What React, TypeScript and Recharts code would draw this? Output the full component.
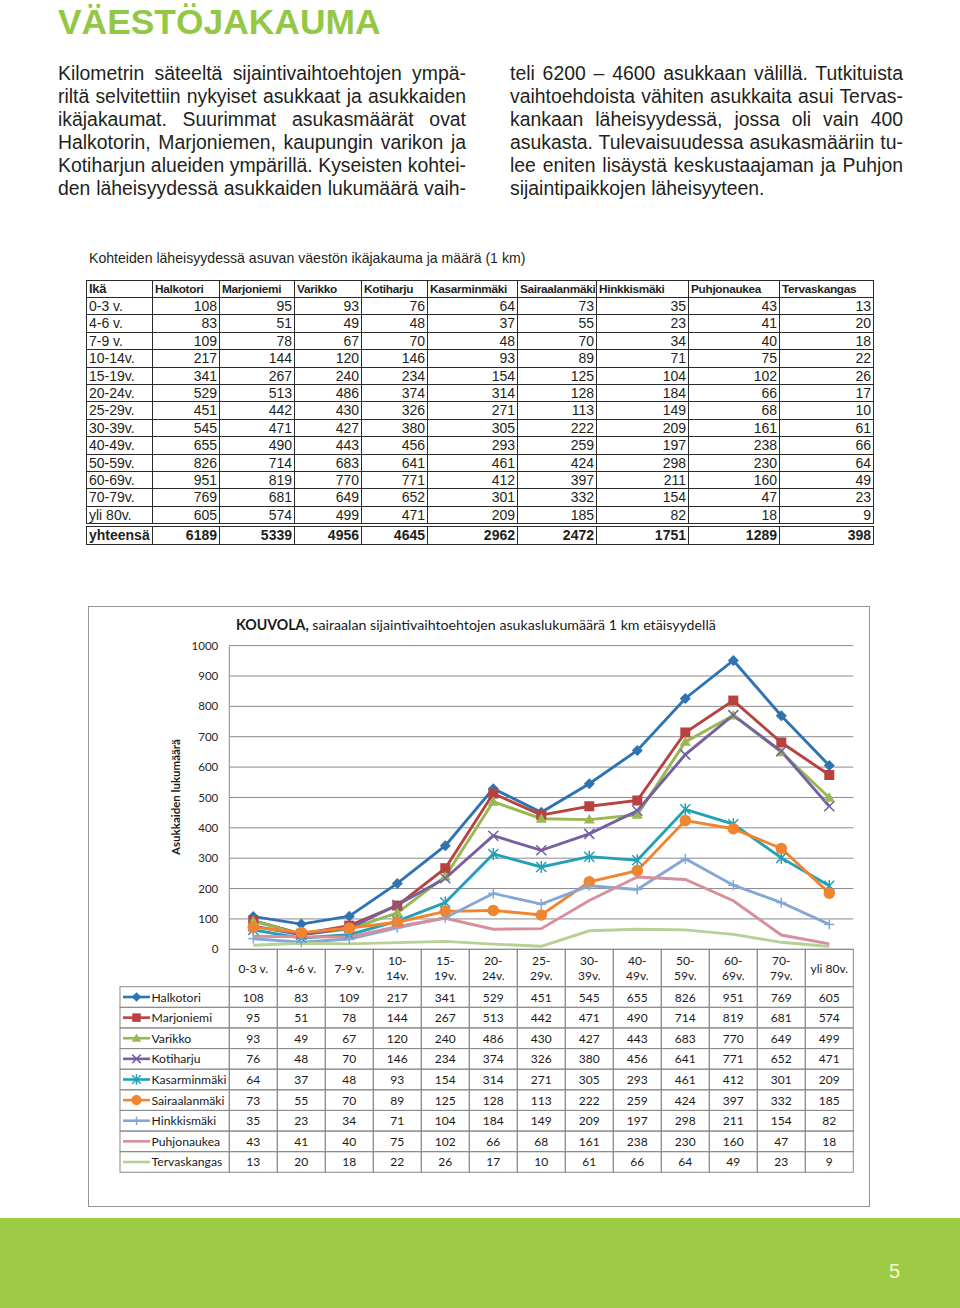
import React from 'react';
import { LineChart, Line, XAxis, YAxis, CartesianGrid } from 'recharts';

// ikäryhmät ja asukasmäärät (1 km säteellä)
const ageGroups = ['0-3 v.', '4-6 v.', '7-9 v.', '10-14v.', '15-19v.', '20-24v.', '25-29v.', '30-39v.', '40-49v.', '50-59v.', '60-69v.', '70-79v.', 'yli 80v.'];
const halkotori = [108, 83, 109, 217, 341, 529, 451, 545, 655, 826, 951, 769, 605];
const marjoniemi = [95, 51, 78, 144, 267, 513, 442, 471, 490, 714, 819, 681, 574];
const varikko = [93, 49, 67, 120, 240, 486, 430, 427, 443, 683, 770, 649, 499];
const kotiharju = [76, 48, 70, 146, 234, 374, 326, 380, 456, 641, 771, 652, 471];
const kasarminmaki = [64, 37, 48, 93, 154, 314, 271, 305, 293, 461, 412, 301, 209];
const sairaalanmaki = [73, 55, 70, 89, 125, 128, 113, 222, 259, 424, 397, 332, 185];
const hinkkismaki = [35, 23, 34, 71, 104, 184, 149, 209, 197, 298, 211, 154, 82];
const puhjonaukea = [43, 41, 40, 75, 102, 66, 68, 161, 238, 230, 160, 47, 18];
const tervaskangas = [13, 20, 18, 22, 26, 17, 10, 61, 66, 64, 49, 23, 9];
const totals = [6189, 5339, 4956, 4645, 2962, 2472, 1751, 1289, 398];
const yTicks = [0, 100, 200, 300, 400, 500, 600, 700, 800, 900, 1000];

const series = [
  { key: 'halkotori', name: 'Halkotori', values: halkotori, color: '#2e74b3', marker: 'diamond' },
  { key: 'marjoniemi', name: 'Marjoniemi', values: marjoniemi, color: '#b8423f', marker: 'square' },
  { key: 'varikko', name: 'Varikko', values: varikko, color: '#97b853', marker: 'triangle' },
  { key: 'kotiharju', name: 'Kotiharju', values: kotiharju, color: '#7560a2', marker: 'x' },
  { key: 'kasarminmaki', name: 'Kasarminmäki', values: kasarminmaki, color: '#23a0b6', marker: 'star' },
  { key: 'sairaalanmaki', name: 'Sairaalanmäki', values: sairaalanmaki, color: '#f0842f', marker: 'circle' },
  { key: 'hinkkismaki', name: 'Hinkkismäki', values: hinkkismaki, color: '#83a8d7', marker: 'plus' },
  { key: 'puhjonaukea', name: 'Puhjonaukea', values: puhjonaukea, color: '#d68f9b', marker: 'none' },
  { key: 'tervaskangas', name: 'Tervaskangas', values: tervaskangas, color: '#b6d096', marker: 'none' },
];

const chartData = ageGroups.map((age, i) => {
  const row: Record<string, string | number> = { age };
  series.forEach((s) => { row[s.key] = s.values[i]; });
  return row;
});

const leftLines = [
  'Kilometrin säteeltä sijaintivaihtoehtojen ympä-',
  'riltä selvitettiin nykyiset asukkaat ja asukkaiden',
  'ikäjakaumat. Suurimmat asukasmäärät ovat',
  'Halkotorin, Marjoniemen, kaupungin varikon ja',
  'Kotiharjun alueiden ympärillä. Kyseisten kohtei-',
  'den läheisyydessä asukkaiden lukumäärä vaih-',
];
const rightLines = [
  'teli 6200 – 4600 asukkaan välillä. Tutkituista',
  'vaihtoehdoista vähiten asukkaita asui Tervas-',
  'kankaan läheisyydessä, jossa oli vain 400',
  'asukasta. Tulevaisuudessa asukasmääriin tu-',
  'lee eniten lisäystä keskustaajaman ja Puhjon',
  'sijaintipaikkojen läheisyyteen.',
];

const CAT_W = 48;
const HEAD_H = 37.4;
const ROW_H = 20.62;
const GRID = '#8a8a8a';
const CHART_FONT = 'Lato, "Open Sans", sans-serif';

function Marker({ shape, cx, cy, color, s = 1 }: any) {
  const r = 5 * s;
  switch (shape) {
    case 'diamond':
      return <polygon points={`${cx},${cy - r - 0.5} ${cx + r + 0.5},${cy} ${cx},${cy + r + 0.5} ${cx - r - 0.5},${cy}`} fill={color} />;
    case 'square':
      return <rect x={cx - r} y={cy - r} width={2 * r} height={2 * r} fill={color} />;
    case 'triangle':
      return <polygon points={`${cx},${cy - r - 0.5} ${cx + r + 0.5},${cy + r * 0.8} ${cx - r - 0.5},${cy + r * 0.8}`} fill={color} />;
    case 'x':
      return (
        <g stroke={color} strokeWidth={1.5}>
          <line x1={cx - r} y1={cy - r} x2={cx + r} y2={cy + r} />
          <line x1={cx - r} y1={cy + r} x2={cx + r} y2={cy - r} />
        </g>
      );
    case 'star':
      return (
        <g stroke={color} strokeWidth={1.5}>
          <line x1={cx - r} y1={cy - r} x2={cx + r} y2={cy + r} />
          <line x1={cx - r} y1={cy + r} x2={cx + r} y2={cy - r} />
          <line x1={cx} y1={cy - r - 1} x2={cx} y2={cy + r + 1} />
        </g>
      );
    case 'circle':
      return <circle cx={cx} cy={cy} r={r + 0.8} fill={color} />;
    case 'plus':
      return (
        <g stroke={color} strokeWidth={1.5}>
          <line x1={cx} y1={cy - r} x2={cx} y2={cy + r} />
          <line x1={cx - r} y1={cy} x2={cx + r} y2={cy} />
        </g>
      );
    default:
      return null;
  }
}

// x-akselin tikki piirtää koko taulukon sarakkeen
function TableTick(props: any) {
  const { x, y, payload } = props;
  const i = ageGroups.indexOf(payload.value);
  const left = x - CAT_W / 2;
  const m = String(payload.value).match(/^(\d{2}-)(\d.*)$/);
  const lines = m ? [m[1], m[2]] : [payload.value];
  const legendLeft = 32;
  return (
    <g fontFamily={CHART_FONT} fontSize={12} fill="#1a1a1a">
      <rect x={left} y={y} width={CAT_W} height={HEAD_H} fill="none" stroke={GRID} />
      {lines.length === 1 ? (
        <text x={x} y={y + HEAD_H / 2} textAnchor="middle" dominantBaseline="central">{lines[0]}</text>
      ) : (
        lines.map((t: string, k: number) => (
          <text key={k} x={x} y={y + 11.5 + k * 15} textAnchor="middle" dominantBaseline="central">{t}</text>
        ))
      )}
      {series.map((s, r) => {
        const top = y + HEAD_H + r * ROW_H;
        return (
          <g key={s.key}>
            <rect x={left} y={top} width={CAT_W} height={ROW_H} fill="none" stroke={GRID} />
            <text x={x} y={top + ROW_H / 2} textAnchor="middle" dominantBaseline="central">{s.values[i]}</text>
            {i === 0 && (
              <g>
                <rect x={legendLeft} y={top} width={left - legendLeft} height={ROW_H} fill="none" stroke={GRID} />
                <line x1={legendLeft + 3} x2={legendLeft + 30} y1={top + ROW_H / 2} y2={top + ROW_H / 2} stroke={s.color} strokeWidth={2.6} />
                <Marker shape={s.marker} cx={legendLeft + 16.5} cy={top + ROW_H / 2} color={s.color} s={0.85} />
                <text x={legendLeft + 31.5} y={top + ROW_H / 2} dominantBaseline="central" fontSize={12.2}>{s.name}</text>
              </g>
            )}
          </g>
        );
      })}
    </g>
  );
}

const colX = [86, 152, 219, 294, 361, 427, 517, 596, 688, 779, 873];
const TABLE_FONT = '"Liberation Sans", Arial, sans-serif';

function TopTable() {
  const cells: React.ReactNode[] = [];
  const header = ['Ikä', ...series.map((s) => s.name)];
  const rowTop = (r: number) => 297 + r * 17.4;
  const cell = (key: string, c: number, top: number, h: number, text: React.ReactNode, opts: any = {}) => (
    <div
      key={key}
      style={{
        position: 'absolute',
        left: colX[c],
        top,
        width: colX[c + 1] - colX[c] + (c === colX.length - 2 ? 1 : 0),
        height: h + (opts.last ? 1 : 0),
        boxSizing: 'border-box',
        borderLeft: '1px solid #2a2a2a',
        borderTop: '1px solid #2a2a2a',
        borderRight: c === colX.length - 2 ? '1px solid #2a2a2a' : undefined,
        borderBottom: opts.last ? '1px solid #2a2a2a' : undefined,
        textAlign: opts.align || 'right',
        padding: '0 2px',
        lineHeight: `${h - 1}px`,
        whiteSpace: 'nowrap',
        fontSize: opts.size || 14,
        fontWeight: opts.bold ? 'bold' : 'normal',
        letterSpacing: opts.ls || 0,
        color: '#231f20',
      }}
    >
      {text}
    </div>
  );
  header.forEach((h, c) => cells.push(cell(`h${c}`, c, 280, 17, h, { align: 'left', bold: true, size: c === 0 ? 13 : 11.8, ls: -0.3 })));
  ageGroups.forEach((age, r) => {
    const last = r === ageGroups.length - 1;
    cells.push(cell(`a${r}`, 0, rowTop(r), 17.4, age, { align: 'left', last }));
    series.forEach((s, c) => cells.push(cell(`v${r}-${c}`, c + 1, rowTop(r), 17.4, s.values[r], { last })));
  });
  cells.push(cell('tot', 0, 526, 18, 'yhteensä', { align: 'left', bold: true, last: true }));
  totals.forEach((t, c) => cells.push(cell(`t${c}`, c + 1, 526, 18, t, { bold: true, last: true })));
  return <div style={{ fontFamily: TABLE_FONT }}>{cells}</div>;
}

export default function App() {
  const textStyle: React.CSSProperties = {
    position: 'absolute',
    fontFamily: '"Liberation Sans", Arial, sans-serif',
    fontSize: 19.4,
    lineHeight: '23px',
    color: '#231f20',
    whiteSpace: 'nowrap',
    textAlign: 'justify',
  };
  return (
    <div style={{ position: 'absolute', left: 0, top: 0, width: 960, height: 1308, background: '#fff', overflow: 'hidden' }}>
      <div style={{ position: 'absolute', left: 58, top: 2, fontFamily: '"Liberation Sans", Arial, sans-serif', fontWeight: 'bold', fontSize: 35.4, lineHeight: '40px', color: '#93c847' }}>
        VÄESTÖJAKAUMA
      </div>

      {leftLines.map((t, i) => (
        <div key={`l${i}`} style={{ ...textStyle, left: 58, top: 62 + i * 23, width: 408, textAlignLast: 'justify' }}>{t}</div>
      ))}
      {rightLines.map((t, i) => (
        <div key={`r${i}`} style={{ ...textStyle, left: 510, top: 62 + i * 23, width: 393, textAlignLast: i === rightLines.length - 1 ? 'left' : 'justify' }}>{t}</div>
      ))}

      <div style={{ position: 'absolute', left: 89, top: 250, fontFamily: '"Liberation Sans", Arial, sans-serif', fontSize: 14.1, lineHeight: '16px', color: '#231f20', whiteSpace: 'nowrap' }}>
        Kohteiden läheisyydessä asuvan väestön ikäjakauma ja määrä (1 km)
      </div>
      <TopTable />

      <div style={{ position: 'absolute', left: 88, top: 606 }}>
        <LineChart
          width={782}
          height={601}
          data={chartData}
          margin={{ top: 39.6, right: 16.7, bottom: 0, left: 0 }}
          style={{ fontFamily: CHART_FONT }}
        >
          <CartesianGrid vertical={false} stroke={GRID} />
          <XAxis
            dataKey="age"
            interval={0}
            tickLine={false}
            axisLine={false}
            tickSize={0}
            tickMargin={0}
            height={257.7}
            padding={{ left: CAT_W / 2, right: CAT_W / 2 }}
            tick={<TableTick />}
          />
          <YAxis
            width={141.3}
            domain={[0, 1000]}
            ticks={yTicks}
            interval={0}
            tickLine={false}
            axisLine={{ stroke: GRID }}
            tickMargin={5}
            tick={{ fontSize: 11.5, fill: '#262626', fontFamily: CHART_FONT }}
          />
          {series.map((s) => (
            <Line
              key={s.key}
              type="linear"
              dataKey={s.key}
              name={s.name}
              stroke={s.color}
              strokeWidth={2.9}
              isAnimationActive={false}
              activeDot={false}
              dot={s.marker === 'none' ? false : (p: any) => (
                <Marker key={`${s.key}-${p.index}`} shape={s.marker} cx={p.cx} cy={p.cy} color={s.color} />
              )}
            />
          ))}
        </LineChart>
      </div>
      <div style={{ position: 'absolute', left: 88, top: 606, width: 782, height: 601, boxSizing: 'border-box', border: '1.5px solid #959595', pointerEvents: 'none' }} />
      <div style={{ position: 'absolute', left: 236, top: 616, fontFamily: CHART_FONT, fontSize: 14.2, lineHeight: '17px', color: '#1a1a1a', whiteSpace: 'nowrap' }}>
        <b>KOUVOLA,</b> sairaalan sijaintivaihtoehtojen asukaslukumäärä 1 km etäisyydellä
      </div>
      <div style={{ position: 'absolute', left: 175, top: 797, transform: 'translate(-50%, -50%) rotate(-90deg)', fontFamily: CHART_FONT, fontWeight: 'bold', fontSize: 11.5, color: '#1a1a1a', whiteSpace: 'nowrap' }}>
        Asukkaiden lukumäärä
      </div>

      <div style={{ position: 'absolute', left: 0, top: 1218, width: 960, height: 90, background: '#9dcb46' }} />
      <div style={{ position: 'absolute', left: 889, top: 1259, fontFamily: '"Liberation Sans", Arial, sans-serif', fontSize: 20, lineHeight: '24px', color: '#f3f7d4' }}>5</div>
    </div>
  );
}
